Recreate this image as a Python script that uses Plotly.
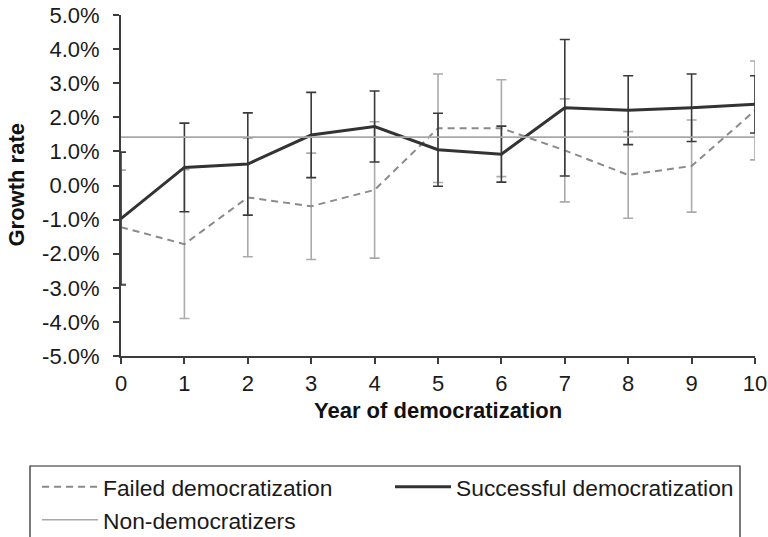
import plotly.graph_objects as go

# Growth rate (%) by year relative to democratization
years = [0, 1, 2, 3, 4, 5, 6, 7, 8, 9, 10]

failed = [-1.22, -1.72, -0.35, -0.61, -0.13, 1.68, 1.68, 1.03, 0.31, 0.57, 2.20]
failed_err = [1.67, 2.18, 1.74, 1.56, 2.00, 1.59, 1.42, 1.51, 1.27, 1.35, 1.45]

successful = [-0.97, 0.53, 0.63, 1.48, 1.73, 1.05, 0.92, 2.28, 2.21, 2.28, 2.38]
successful_err = [1.95, 1.30, 1.50, 1.25, 1.04, 1.07, 0.82, 2.00, 1.01, 0.99, 0.84]

non_democratizers = [1.42] * 11

y_ticks = [5, 4, 3, 2, 1, 0, -1, -2, -3, -4, -5]
y_tick_labels = ["5.0%", "4.0%", "3.0%", "2.0%", "1.0%", "0.0%",
                 "-1.0%", "-2.0%", "-3.0%", "-4.0%", "-5.0%"]

FONT = "Liberation Sans, Arial, sans-serif"
AXIS = "#3c3c3c"
TXT = "#1a1a1a"
FS = 22

W, H = 768, 537
ML, MR, MT, MB = 121, 13, 15, 181
PW, PH = W - ML - MR, H - MT - MB

fig = go.Figure()

fig.add_trace(go.Scatter(
    x=years, y=failed, mode="lines", name="Failed democratization",
    line=dict(color="#8a8a8a", width=2, dash="7px,5px"),
    error_y=dict(type="data", array=failed_err, visible=True,
                 color="#ababab", thickness=1.6, width=5),
    legend="legend",
))
fig.add_trace(go.Scatter(
    x=years, y=successful, mode="lines", name="Successful democratization",
    line=dict(color="#333333", width=3),
    error_y=dict(type="data", array=successful_err, visible=True,
                 color="#3a3a3a", thickness=1.6, width=5),
    legend="legend2",
))
fig.add_trace(go.Scatter(
    x=years, y=non_democratizers, mode="lines", name="Non-democratizers",
    line=dict(color="#a8a8a8", width=1.6),
    legend="legend3",
))

leg_common = dict(
    xref="container", yref="container", xanchor="left", yanchor="middle",
    bgcolor="rgba(0,0,0,0)", borderwidth=0, itemwidth=56,
    font=dict(family=FONT, size=22.8, color=TXT),
)

row1 = (H - 487) / H
row2 = (H - 520) / H

fig.update_layout(
    width=W, height=H,
    margin=dict(l=ML, r=MR, t=MT, b=MB, autoexpand=False),
    paper_bgcolor="white", plot_bgcolor="white",
    font=dict(family=FONT, size=FS, color=TXT),
    showlegend=True,
    legend=dict(x=37 / W, y=row1, **leg_common),
    legend2=dict(x=390 / W, y=row1, **leg_common),
    legend3=dict(x=37 / W, y=row2, **leg_common),
    xaxis=dict(
        range=[0, 10], tickmode="array", tickvals=years,
        showgrid=False, zeroline=False,
        showline=True, linecolor=AXIS, linewidth=2,
        ticks="outside", ticklen=6, tickwidth=1.5, tickcolor=AXIS,
        ticklabelstandoff=1,
        tickfont=dict(family=FONT, size=FS, color=TXT),
    ),
    yaxis=dict(
        range=[-5, 5], tickmode="array", tickvals=y_ticks, ticktext=y_tick_labels,
        showgrid=False, zeroline=False,
        showline=True, linecolor=AXIS, linewidth=2,
        ticks="outside", ticklen=6, tickwidth=1.5, tickcolor=AXIS,
        ticklabelstandoff=9,
        tickfont=dict(family=FONT, size=FS, color=TXT),
    ),
    annotations=[
        dict(
            text="Growth rate", textangle=-90, showarrow=False,
            xref="paper", yref="paper", x=(16 - ML) / PW, y=0.5,
            xanchor="center", yanchor="middle",
            font=dict(family=FONT, size=FS, color="#111111", weight="bold"),
        ),
        dict(
            text="Year of democratization", showarrow=False,
            xref="paper", yref="paper", x=0.5, y=(H - MB - 410) / PH,
            xanchor="center", yanchor="middle",
            font=dict(family=FONT, size=FS, color="#111111", weight="bold"),
        ),
    ],
    shapes=[dict(
        type="rect", xref="paper", yref="paper",
        x0=(30 - ML) / PW, x1=(740 - ML) / PW,
        y0=(H - MB - 466) / PH, y1=(H - MB - 560) / PH,
        line=dict(color="#222222", width=1.2), fillcolor="rgba(0,0,0,0)",
    )],
)

fig.write_html("out.html")
